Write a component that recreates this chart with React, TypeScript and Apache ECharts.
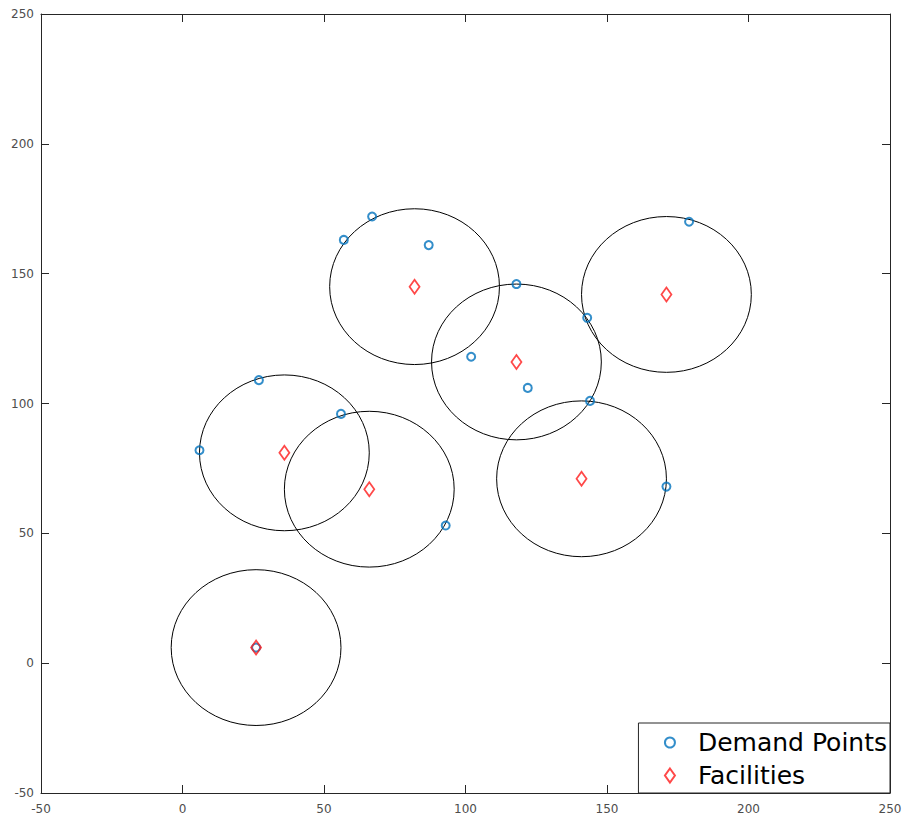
import React, { useEffect, useRef } from "react";
import * as echarts from "echarts";

const xTicks = [-50, 0, 50, 100, 150, 200, 250];
const yTicks = [-50, 0, 50, 100, 150, 200, 250];

const demandPoints: [number, number][] = [
  [6, 82], [27, 109], [56, 96], [57, 163], [67, 172], [87, 161],
  [102, 118], [118, 146], [122, 106], [143, 133], [144, 101],
  [179, 170], [171, 68], [93, 53], [26, 6],
];

const facilities: [number, number][] = [
  [26, 6], [36, 81], [66, 67], [82, 145], [118, 116], [141, 71], [171, 142],
];

const coverageRadius = 30;

const BLUE = "#0072BD";
const RED = "#FF1A1A";
const AXIS = "#262626";

export default function App() {
  const ref = useRef<HTMLDivElement>(null);
  useEffect(() => {
    if (!ref.current) return;
    const chart = echarts.init(ref.current, undefined, { renderer: "svg" });
    const axisCommon = {
      type: "value" as const,
      min: xTicks[0],
      max: xTicks[xTicks.length - 1],
      interval: 50,
      splitLine: { show: false },
      axisLine: { show: true, onZero: false, lineStyle: { color: AXIS, width: 1 } },
      axisTick: { show: true, inside: true, length: 8, lineStyle: { color: AXIS, width: 1 } },
    };
    const labelStyle = { color: "#4d4d4d", fontSize: 12, fontFamily: "DejaVu Sans" };
    chart.setOption({
      animation: false,
      backgroundColor: "#fff",
      grid: { left: 41, right: 19, top: 14, bottom: 26, containLabel: false },
      xAxis: [
        { ...axisCommon, position: "bottom", axisLabel: { ...labelStyle, margin: 10 } },
        { ...axisCommon, position: "top", axisLabel: { show: false } },
      ],
      yAxis: [
        { ...axisCommon, min: yTicks[0], max: yTicks[yTicks.length - 1], position: "left", axisLabel: { ...labelStyle, margin: 7 } },
        { ...axisCommon, min: yTicks[0], max: yTicks[yTicks.length - 1], position: "right", axisLabel: { show: false } },
      ],
      legend: {
        orient: "vertical",
        right: 19,
        bottom: 26,
        backgroundColor: "#fff",
        borderColor: AXIS,
        borderWidth: 1,
        borderRadius: 0,
        padding: [7, 3, 5, 24],
        itemGap: 8,
        itemWidth: 10,
        itemHeight: 14,
        textStyle: { fontSize: 25, fontFamily: "DejaVu Sans", color: "#000", padding: [0, 0, 0, 18] },
        data: [
          { name: "Demand Points", icon: "circle", itemStyle: { color: "none", borderColor: BLUE, borderWidth: 2 } },
          { name: "Facilities", icon: "path://M0,-7L5,0L0,7L-5,0Z", itemStyle: { color: "none", borderColor: RED, borderWidth: 2 } },
        ],
      },
      series: [
        {
          type: "custom",
          name: "Coverage",
          xAxisIndex: 0,
          yAxisIndex: 0,
          data: facilities.map((f) => [f[0], f[1], coverageRadius]),
          renderItem: (params: any, api: any) => {
            const c = api.coord([api.value(0), api.value(1)]);
            const r = api.value(2);
            const s = api.size([r, r]);
            return {
              type: "ellipse",
              shape: { cx: c[0], cy: c[1], rx: s[0], ry: s[1] },
              style: { fill: "none", stroke: "#000", lineWidth: 1 },
              silent: true,
            };
          },
          z: 1,
        },
        {
          type: "scatter",
          name: "Demand Points",
          data: demandPoints,
          symbol: "circle",
          symbolSize: 8,
          itemStyle: { color: "none", borderColor: BLUE, borderWidth: 2 },
          z: 2,
        },
        {
          type: "scatter",
          name: "Facilities",
          data: facilities,
          symbol: "diamond",
          symbolSize: [10, 14],
          itemStyle: { color: "none", borderColor: RED, borderWidth: 1.8 },
          z: 3,
        },
      ],
    });
    return () => chart.dispose();
  }, []);
  return <div ref={ref} style={{ width: 909, height: 819, position: "absolute", left: 0, top: 0 }} />;
}
